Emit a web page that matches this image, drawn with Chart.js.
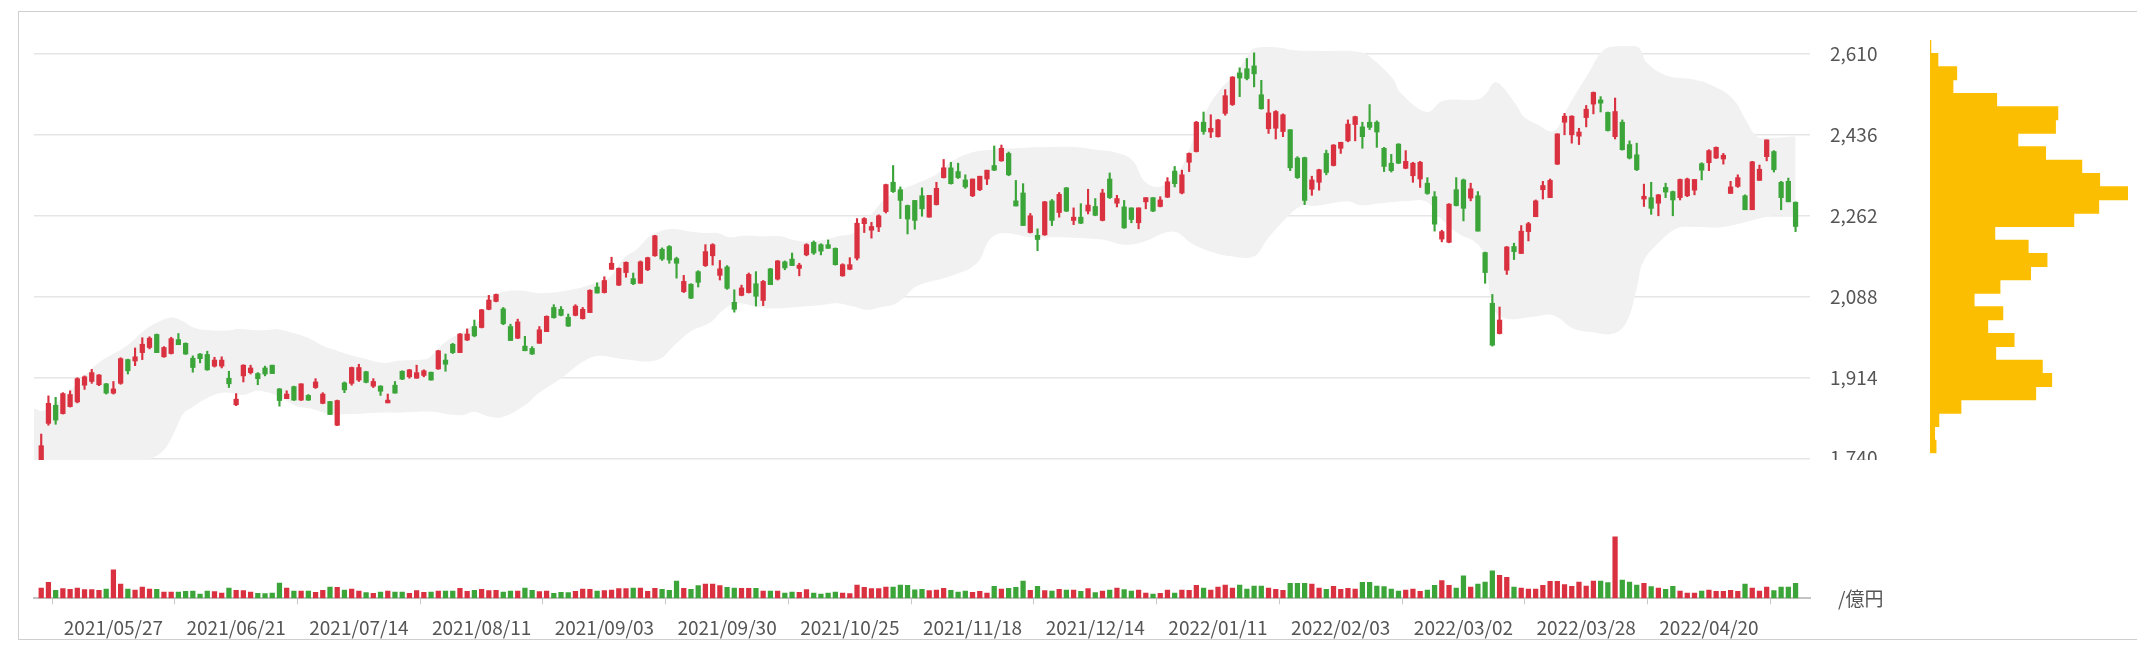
<!DOCTYPE html>
<html lang="ja">
<head>
    <meta charset="UTF-8">
    <title>株価チャート</title>
    <script src="https://cdn.jsdelivr.net/npm/chart.js@4"></script>
    <style>
        body { margin: 0; background: #fff; }
        .frame { position: absolute; left: 18px; top: 11px; width: 2200px; height: 627px; border: 1px solid #cfcfcf; }
        .box { position: absolute; overflow: hidden; }
        canvas { display: block; }
    </style>
</head>
<body>
    <div class="frame"></div>
    <div class="box" style="left:0;top:0;width:1925px;height:460px">
        <canvas id="price-chart" width="1925" height="493"></canvas>
    </div>
    <div class="box" style="left:0;top:438px;width:1925px;height:207px">
        <canvas id="volume-chart" width="1925" height="207"></canvas>
    </div>
    <div class="box" style="left:1925px;top:40px;width:212px;height:420px">
        <canvas id="profile-chart" width="212" height="420"></canvas>
    </div>

<script>
// daily candles (index 0 = first trading day shown)
const opens = [1735,1815,1854,1836,1851,1861,1897,1905,1898,1900,1880,1901,1952,1949,1967,1978,2006,1958,1965,1995,
    1987,1955,1964,1963,1938,1938,1912,1855,1917,1924,1922,1934,1940,1889,1868,1894,1865,1875,1892,1858,
    1862,1811,1902,1901,1908,1926,1895,1895,1859,1897,1927,1915,1912,1918,1925,1932,1951,1985,1967,1994,
    2023,2021,2060,2077,2061,2023,1998,1981,1976,1987,2012,2064,2060,2043,2047,2040,2053,2108,2096,2146,
    2112,2139,2126,2116,2145,2175,2189,2195,2169,2098,2114,2141,2154,2175,2133,2151,2075,2090,2096,2115,
    2079,2147,2125,2162,2168,2148,2177,2204,2199,2199,2191,2132,2146,2170,2244,2230,2237,2270,2333,2317,
    2283,2294,2304,2258,2285,2343,2364,2356,2338,2304,2317,2340,2369,2379,2395,2293,2310,2225,2219,2220,
    2293,2268,2321,2251,2258,2271,2281,2251,2340,2288,2280,2278,2246,2291,2300,2281,2301,2357,2310,2376,
    2399,2462,2441,2431,2481,2500,2568,2577,2583,2521,2448,2449,2442,2446,2385,2386,2318,2333,2395,2369,
    2406,2422,2457,2452,2462,2462,2406,2374,2415,2363,2347,2340,2331,2302,2211,2204,2317,2338,2299,2304,
    2182,2073,2008,2144,2195,2180,2227,2259,2317,2300,2372,2462,2435,2432,2472,2501,2510,2483,2431,2462,
    2414,2392,2297,2300,2288,2322,2313,2300,2304,2316,2373,2375,2385,2383,2309,2324,2304,2274,2337,2388,
    2399,2333,2335,2290];
const highs = [1792,1874,1871,1881,1885,1913,1917,1931,1920,1901,1905,1956,1953,1977,1999,2001,2007,1980,2000,2008,
    1988,1960,1965,1970,1957,1958,1927,1879,1941,1940,1924,1938,1940,1890,1885,1895,1900,1877,1911,1881,
    1862,1865,1904,1936,1942,1927,1911,1896,1878,1905,1928,1931,1940,1930,1925,1972,1964,1987,2008,2018,
    2037,2060,2090,2093,2064,2028,2039,2002,1980,2023,2046,2070,2066,2050,2070,2064,2102,2117,2130,2172,
    2149,2162,2138,2164,2172,2219,2192,2197,2172,2133,2115,2143,2199,2201,2165,2154,2102,2112,2138,2141,
    2122,2148,2165,2164,2181,2159,2201,2207,2201,2209,2192,2158,2171,2255,2257,2247,2263,2329,2369,2323,
    2284,2294,2321,2305,2333,2382,2376,2374,2349,2340,2346,2359,2411,2413,2398,2337,2330,2266,2233,2292,
    2296,2311,2322,2278,2287,2318,2298,2318,2353,2305,2294,2278,2278,2300,2300,2302,2343,2367,2359,2396,
    2464,2484,2478,2468,2532,2560,2579,2599,2611,2552,2511,2487,2480,2446,2388,2387,2346,2361,2402,2414,
    2419,2467,2475,2462,2500,2465,2408,2393,2416,2401,2376,2378,2343,2313,2230,2287,2343,2340,2331,2313,
    2183,2092,2065,2195,2202,2240,2247,2295,2335,2340,2437,2481,2476,2449,2498,2527,2517,2484,2514,2467,
    2422,2417,2329,2333,2307,2331,2314,2340,2342,2339,2375,2403,2409,2395,2335,2349,2306,2378,2370,2424,
    2401,2335,2342,2291];
const lows = [1733,1811,1813,1835,1850,1859,1888,1901,1896,1878,1878,1899,1921,1939,1952,1975,1967,1957,1964,1984,
    1963,1925,1945,1929,1936,1934,1892,1853,1904,1921,1898,1917,1922,1852,1868,1864,1864,1864,1890,1857,
    1834,1810,1881,1897,1905,1902,1892,1875,1859,1880,1909,1912,1912,1915,1908,1931,1927,1965,1967,1993,
    2001,2020,2059,2076,2027,1993,1997,1971,1963,1987,2012,2041,2046,2023,2046,2039,2053,2095,2095,2146,
    2111,2129,2113,2116,2143,2174,2165,2159,2127,2096,2083,2108,2152,2155,2123,2103,2054,2089,2095,2067,
    2068,2113,2123,2145,2154,2132,2175,2178,2177,2191,2155,2131,2145,2166,2225,2213,2227,2267,2311,2255,
    2222,2232,2260,2258,2284,2342,2329,2341,2320,2302,2315,2328,2358,2378,2347,2282,2240,2224,2186,2219,
    2240,2258,2270,2242,2244,2265,2261,2250,2298,2280,2234,2246,2233,2276,2270,2280,2300,2323,2308,2356,
    2398,2436,2429,2430,2477,2498,2517,2553,2538,2490,2438,2426,2431,2358,2341,2285,2305,2316,2349,2368,
    2395,2420,2422,2406,2446,2408,2356,2355,2373,2362,2333,2322,2307,2228,2205,2203,2282,2250,2293,2228,
    2116,1981,2007,2135,2167,2180,2207,2259,2297,2300,2371,2435,2417,2414,2452,2480,2484,2443,2426,2402,
    2383,2358,2281,2264,2261,2300,2261,2295,2302,2306,2338,2358,2384,2372,2309,2322,2274,2274,2337,2379,
    2355,2274,2291,2227];
const closes = [1767,1858,1822,1879,1877,1911,1915,1924,1919,1880,1889,1954,1928,1958,1985,1998,1967,1978,1997,1984,
    1964,1935,1954,1930,1951,1951,1900,1867,1940,1934,1911,1921,1922,1864,1878,1865,1900,1865,1904,1878,
    1834,1864,1887,1935,1935,1903,1905,1884,1865,1880,1910,1930,1924,1928,1908,1971,1942,1967,2007,2007,
    2003,2059,2080,2092,2029,1993,2033,1971,1964,2016,2045,2042,2047,2024,2067,2060,2101,2095,2122,2159,
    2148,2161,2115,2162,2171,2218,2168,2166,2159,2120,2084,2118,2184,2199,2147,2105,2060,2106,2135,2088,
    2120,2113,2164,2149,2154,2155,2199,2181,2185,2191,2156,2156,2156,2245,2255,2238,2261,2328,2313,2294,
    2254,2251,2276,2305,2320,2364,2330,2343,2323,2340,2346,2359,2359,2406,2349,2282,2240,2261,2210,2291,
    2251,2307,2271,2258,2245,2284,2262,2310,2300,2298,2235,2253,2278,2300,2271,2295,2334,2330,2349,2395,
    2462,2442,2449,2467,2519,2559,2557,2556,2566,2491,2482,2485,2478,2364,2343,2294,2338,2360,2354,2413,
    2419,2458,2474,2431,2451,2441,2367,2358,2374,2378,2374,2376,2309,2243,2227,2286,2283,2277,2319,2228,
    2139,1983,2037,2194,2184,2228,2244,2293,2326,2337,2437,2475,2475,2441,2490,2526,2503,2444,2485,2403,
    2385,2360,2303,2277,2306,2312,2295,2339,2340,2339,2359,2401,2408,2391,2323,2343,2274,2377,2361,2424,
    2360,2300,2291,2238];

// turnover (億円)
const volumes = [10.3,16,8,9.7,9,10.3,8.7,8.7,8,9.3,28.3,14.3,9.3,8.3,11.3,9.3,9,6.3,6.3,6.3,
    7,7.3,4.3,7.3,6.7,5.3,10.3,8,7.7,6.3,5,4.7,5.3,15.3,10.3,7.3,7.3,7.3,6,8,
    11.3,11,8.3,9.3,7.3,5.7,5,6.3,7.3,6.3,6.3,5,7.7,6,6.3,7.3,7.3,7.3,10,7,
    8,9,7.7,8,6.3,7.3,7.3,10.3,8,6.7,7.3,5,6,5.7,7,9.3,9,7.3,7.7,8.3,
    9.7,9.7,10.3,10.3,7,10,9,8,17.3,10,9,12.7,14.3,14.3,12.7,11,10.3,10,10,10,
    7.3,7.3,7.3,5.3,6.3,6,8.7,5.3,4.3,5.3,6.3,5.3,4.7,13.3,11,9.7,9.7,11.3,11.3,13.3,
    13,8.5,9,7.7,8.3,10,8,6.3,7.3,6,7,5.3,12,9.3,10,11,17.3,8,12,7.7,
    7.3,9,8.3,8.3,7,9.7,5.7,7.3,8.3,10.3,8.7,7.3,8.3,5.3,4.3,5,8.3,5.3,8.3,8,
    13,10.3,8.3,11.3,13.3,10.3,13.3,9.3,12.3,12.3,10.3,9,8,15,15,15,14.3,10.3,9,12,
    9,10,9.3,16,16,12.3,11.7,9.3,7.3,8.3,9.3,7,8.3,13,17.7,13,10.3,22.3,11.3,14.3,
    16.3,27.3,23,21,11.3,10.3,9.3,9.3,13,17,17,13.7,12,16.3,12.3,17.3,17.3,15.7,61.3,18.3,
    16.3,13.3,15,11.7,10.3,9,12,7.3,5.3,5.3,7.3,8.3,7,7,8,7,14.3,10.3,7.3,11.3,
    7.7,11.3,11.3,15];

// bollinger band: [day index, price]
const bandUpper = [[-1,1847],[0.3,1842],[3.1,1872],[5.4,1908],[7.7,1942],[9.1,1957],[10.9,1972],[12.3,1987],
    [14.2,2014],[16,2031],[17.9,2042],[19.3,2037],[21.1,2021],[23.4,2015],[26.2,2015],[27.1,2018],[30.8,2015],
    [32.6,2017],[34.5,2011],[36.8,2000],[39.1,1981],[41,1971],[42.8,1962],[44.6,1955],[47.4,1945],[49.7,1950],
    [53,1952],[53.9,1958],[55.3,1981],[57.1,2001],[59.4,2021],[60.8,2040],[62.5,2085],[64,2098],[66.8,2100],
    [68.7,2095],[71,2096],[73.3,2102],[75.1,2108],[77,2118],[78.8,2130],[80.7,2170],[82.5,2189],[84.3,2217],
    [86.2,2230],[88,2232],[89.9,2227],[91.7,2224],[93.6,2224],[95.4,2215],[97.3,2218],[100,2217],[102.4,2217],
    [104.2,2209],[105.6,2206],[108.3,2209],[110.7,2218],[112.5,2224],[114.8,2260],[116.7,2295],[118.5,2313],
    [121.3,2331],[123.8,2348],[126.1,2377],[128.9,2397],[131.7,2403],[134.9,2406],[137.7,2408],[140.4,2409],
    [143.7,2408],[146,2403],[148.8,2397],[151.1,2381],[152.9,2334],[154.8,2323],[156.6,2341],[158,2366],
    [159.8,2435],[161.7,2496],[163.5,2536],[165.4,2565],[167.2,2608],[168.1,2621],[171.8,2622],[173.2,2617],
    [176.5,2615],[182.7,2613],[184.5,2597],[187.3,2554],[188.2,2527],[191.9,2484],[194.2,2508],[198.9,2511],
    [200.2,2525],[201.2,2547],[202.1,2543],[204.4,2497],[205.3,2475],[207.1,2458],[209.5,2443],[211.3,2490],
    [214.1,2562],[216.9,2622],[221,2625],[222.4,2590],[225.2,2562],[228.9,2554],[231.6,2540],[234.4,2511],
    [236.2,2464],[237.6,2432],[239,2428],[243,2432]];
const bandLower = [[-1,1736],[14.2,1736],[15.6,1742],[16.9,1756],[17.9,1779],[18.8,1808],[19.7,1836],[21.1,1851],
    [22.5,1865],[24.3,1878],[26.2,1881],[28,1876],[29.9,1885],[31.7,1880],[33.6,1867],[35.4,1852],[37.3,1847],
    [40,1835],[42.8,1835],[46.5,1838],[49.3,1838],[52,1840],[54.3,1840],[56.2,1835],[58.5,1833],[59.9,1840],
    [62,1830],[64,1829],[67.3,1857],[68.5,1875],[72.3,1915],[74.7,1944],[77,1960],[80.7,1953],[85.3,1951],
    [88,1987],[89.9,2012],[92.7,2032],[94.5,2059],[96.4,2073],[99.1,2066],[101,2062],[104.7,2065],[108.4,2070],
    [110.2,2073],[112.5,2066],[114.4,2059],[116.7,2066],[118,2070],[119.4,2084],[121.3,2110],[125.9,2131],
    [129.6,2159],[131.4,2210],[133.3,2224],[137,2215],[140.7,2215],[146.9,2210],[150,2199],[152.5,2204],
    [156.8,2227],[159.3,2202],[161.8,2185],[164.8,2174],[168,2174],[169.8,2210],[172.9,2263],[174.7,2283],
    [176.5,2282],[180.9,2292],[182.7,2284],[185.5,2288],[189.2,2293],[191.9,2291],[194.2,2250],[196.5,2221],
    [198.4,2207],[199.8,2180],[201.2,2060],[203,2040],[206.7,2044],[209.5,2047],[212.2,2019],[215,2011],
    [217.8,2008],[219.6,2033],[221,2105],[221.9,2162],[224.2,2205],[226.6,2234],[228.9,2237],[232.5,2236],
    [234.4,2241],[237.2,2252],[240,2261],[243,2259]];

// price-by-volume histogram, top bin first
const profileBins = ['2624','2596','2567','2538','2510','2481','2453','2424','2395','2367','2338','2310','2281',
    '2252','2224','2195','2166','2138','2109','2081','2052','2023','1995','1966','1938','1909','1880','1852',
    '1823','1795','1766'];
const profileVolume = [2,17,57,49,142,272,267,187,246,323,361,421,359,306,138,209,249,214,149,94,155,123,179,
    140,239,259,225,66,19,10,13];

const priceTicks = [1740, 1914, 2088, 2262, 2436, 2610];
const tickIndex = [10, 27, 44, 61, 78, 95, 112, 129, 146, 163, 180, 197, 214, 231];
const tickDates = ['2021/05/27','2021/06/21','2021/07/14','2021/08/11','2021/09/03','2021/09/30','2021/10/25',
    '2021/11/18','2021/12/14','2022/01/11','2022/02/03','2022/03/02','2022/03/28','2022/04/20'];

const UP = '#d93140';
const DOWN = '#3ca53a';
const FONT = '"Noto Sans CJK JP", "Noto Sans", sans-serif';
Chart.defaults.font.family = FONT;

const candleColors = opens.map((o, i) => closes[i] >= o ? UP : DOWN);

// Price chart
new Chart(document.getElementById('price-chart'), {
    type: 'bar',
    data: {
        datasets: [
            {
                type: 'line',
                data: bandUpper.map(p => ({ x: p[0], y: p[1] })),
                borderWidth: 0,
                pointRadius: 0,
                tension: 0.4,
                fill: false,
                order: 3,
                clip: false
            },
            {
                type: 'line',
                data: bandLower.map(p => ({ x: p[0], y: p[1] })),
                borderWidth: 0,
                pointRadius: 0,
                tension: 0.4,
                fill: '-1',
                backgroundColor: '#f1f1f1',
                order: 3,
                clip: false
            },
            {
                data: highs.map((h, i) => ({ x: i, y: [lows[i], h] })),
                backgroundColor: candleColors,
                barThickness: 1.5,
                grouped: false,
                order: 2,
                clip: false
            },
            {
                data: opens.map((o, i) => ({ x: i, y: [o, closes[i]] })),
                backgroundColor: candleColors,
                barThickness: 4.6,
                minBarLength: 1.5,
                grouped: false,
                order: 1,
                clip: false
            }
        ]
    },
    options: {
        responsive: false,
        animation: false,
        layout: { padding: { left: 34, top: 45.9, right: 0, bottom: 32.4 } },
        plugins: { legend: { display: false }, tooltip: { enabled: false } },
        scales: {
            x: { type: 'linear', min: -1, max: 245, offset: false, display: false },
            y: {
                position: 'right',
                min: 1735,
                max: 2626,
                afterFit: s => { s.width = 115; },
                afterBuildTicks: s => { s.ticks = priceTicks.map(v => ({ value: v })); },
                ticks: {
                    padding: 20,
                    crossAlign: 'near',
                    color: '#555',
                    font: { size: 19 },
                    callback: v => v.toLocaleString('en-US')
                },
                grid: { color: '#e6e6e6', lineWidth: 1.5, drawTicks: false },
                border: { display: false }
            }
        }
    }
});

// Volume chart
new Chart(document.getElementById('volume-chart'), {
    type: 'bar',
    data: {
        datasets: [{
            data: volumes.map((v, i) => ({ x: i, y: v })),
            backgroundColor: candleColors,
            barThickness: 4.6
        }]
    },
    options: {
        responsive: false,
        animation: false,
        layout: { padding: { left: 34, top: 32, right: 0, bottom: 0 } },
        plugins: { legend: { display: false }, tooltip: { enabled: false } },
        scales: {
            x: {
                type: 'linear',
                min: -1,
                max: 245,
                offset: false,
                afterFit: s => { s.height = 46.7; },
                afterBuildTicks: s => { s.ticks = tickIndex.map(v => ({ value: v })); },
                ticks: {
                    autoSkip: false,
                    maxRotation: 0,
                    padding: 12,
                    color: '#555',
                    font: { size: 19 },
                    callback: v => tickDates[tickIndex.indexOf(v)]
                },
                grid: { drawOnChartArea: false, drawTicks: true, tickLength: 6, color: '#c8c8c8' },
                border: { color: '#c4c4c4', width: 2 }
            },
            y: {
                position: 'right',
                min: 0,
                max: 128,
                afterFit: s => { s.width = 115; },
                afterBuildTicks: s => { s.ticks = [{ value: 0 }]; },
                ticks: {
                    padding: 20,
                    crossAlign: 'near',
                    color: '#555',
                    font: { size: 19 },
                    callback: () => '/億円'
                },
                grid: { display: false },
                border: { display: false }
            }
        }
    }
});

// Price-by-volume profile
new Chart(document.getElementById('profile-chart'), {
    type: 'bar',
    data: {
        labels: profileBins,
        datasets: [{
            data: profileVolume,
            backgroundColor: '#fbbe00',
            barPercentage: 1,
            categoryPercentage: 1
        }]
    },
    options: {
        indexAxis: 'y',
        responsive: false,
        animation: false,
        layout: { padding: { left: 5, right: 9, top: 0, bottom: 6.7 } },
        plugins: { legend: { display: false }, tooltip: { enabled: false } },
        scales: {
            x: { display: false, min: 0, max: 421 },
            y: { display: false }
        }
    }
});
</script>
</body>
</html>
